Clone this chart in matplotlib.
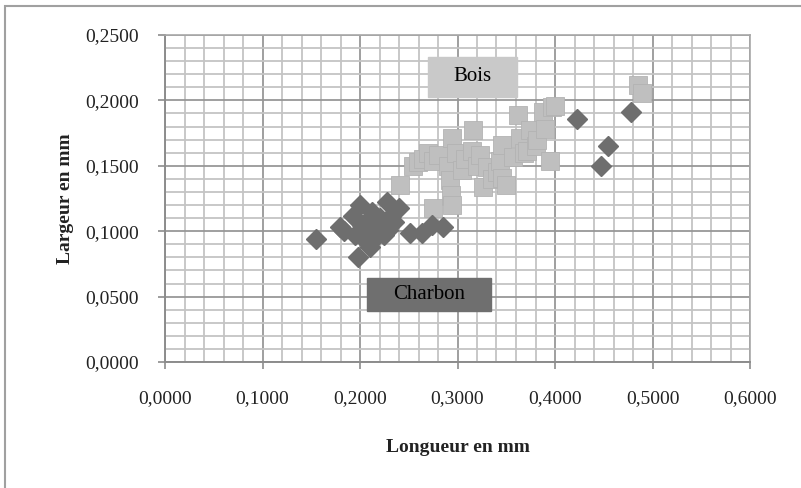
import matplotlib.pyplot as plt
from matplotlib.patches import Rectangle
from matplotlib.ticker import MultipleLocator, FuncFormatter

# longueur / largeur (mm)
charbon_x = [0.155, 0.179, 0.184, 0.193, 0.195, 0.198, 0.200, 0.202, 0.205, 0.207,
             0.210, 0.212, 0.213, 0.217, 0.220, 0.225, 0.228, 0.229, 0.232, 0.235,
             0.240, 0.251, 0.264, 0.274, 0.285, 0.423, 0.447, 0.454, 0.478]
charbon_y = [0.094, 0.103, 0.100, 0.112, 0.097, 0.080, 0.120, 0.105, 0.093, 0.108,
             0.088, 0.115, 0.093, 0.100, 0.110, 0.097, 0.122, 0.101, 0.112, 0.107,
             0.118, 0.099, 0.099, 0.105, 0.103, 0.186, 0.150, 0.165, 0.191]

bois_x = [0.241, 0.254, 0.259, 0.265, 0.270, 0.275, 0.275, 0.280, 0.290, 0.292,
          0.293, 0.294, 0.294, 0.298, 0.305, 0.308, 0.315, 0.316, 0.320, 0.323,
          0.326, 0.330, 0.335, 0.340, 0.344, 0.346, 0.346, 0.350, 0.357, 0.362,
          0.364, 0.368, 0.371, 0.374, 0.380, 0.382, 0.388, 0.390, 0.395, 0.397,
          0.400, 0.485, 0.489]
bois_y = [0.135, 0.150, 0.153, 0.155, 0.160, 0.154, 0.118, 0.158, 0.150, 0.139,
          0.128, 0.120, 0.171, 0.160, 0.147, 0.155, 0.161, 0.177, 0.150, 0.158,
          0.134, 0.149, 0.140, 0.145, 0.154, 0.166, 0.141, 0.135, 0.157, 0.189,
          0.171, 0.160, 0.161, 0.177, 0.165, 0.170, 0.191, 0.178, 0.154, 0.195,
          0.196, 0.212, 0.206]

serif = 'Liberation Serif'

fig = plt.figure(figsize=(8.01, 4.88), dpi=100)
ax = fig.add_axes([165 / 801, 1 - 362 / 488, 585 / 801, 327 / 488])

ax.set_xlim(0, 0.6)
ax.set_ylim(0, 0.25)
ax.xaxis.set_major_locator(MultipleLocator(0.1))
ax.xaxis.set_minor_locator(MultipleLocator(0.02))
ax.yaxis.set_major_locator(MultipleLocator(0.05))
ax.yaxis.set_minor_locator(MultipleLocator(0.01))
fmt = FuncFormatter(lambda v, p: f'{v:.4f}'.replace('.', ','))
ax.xaxis.set_major_formatter(fmt)
ax.yaxis.set_major_formatter(fmt)

ax.grid(which='minor', color='#c4c4c4', linewidth=1.3)
ax.grid(which='major', color='#979797', linewidth=1.3)
ax.set_axisbelow(True)
ax.tick_params(which='minor', length=0)
ax.tick_params(which='major', length=5, width=1.2, color='#8c8c8c',
               labelsize=14, labelcolor='#222222')
ax.tick_params(axis='x', pad=15)
ax.tick_params(axis='y', pad=14)
for t in ax.get_xticklabels() + ax.get_yticklabels():
    t.set_fontfamily(serif)
for side in ['left', 'bottom']:
    ax.spines[side].set_color('#8c8c8c')
    ax.spines[side].set_linewidth(1.4)
for side in ['top', 'right']:
    ax.spines[side].set_color('#a8a8a8')
    ax.spines[side].set_linewidth(1.2)

ax.plot(bois_x, bois_y, 's', ms=13, color='#bfbfbf', mec='#b3b3b3', mew=0.6,
        clip_on=False, zorder=3)
ax.plot(charbon_x, charbon_y, 'D', ms=10, color='#6e6e6e', mec='#6e6e6e',
        clip_on=False, zorder=4)

# étiquettes des séries
ax.add_patch(Rectangle((0.270, 0.2026), 0.091, 0.0306, color='#c9c9c9',
                       zorder=5, clip_on=False))
ax.text(0.3155, 0.2179, 'Bois', ha='center', va='center', fontsize=15,
        family=serif, zorder=6)
ax.add_patch(Rectangle((0.207, 0.0390), 0.127, 0.0252, color='#6f6f6f',
                       zorder=5, clip_on=False))
ax.text(0.2705, 0.0516, 'Charbon', ha='center', va='center', fontsize=15,
        family=serif, zorder=6)

ax.set_xlabel('Longueur en mm', fontsize=14, fontweight='bold', family=serif,
              color='#222222', labelpad=23)
ax.set_ylabel('Largeur en mm', fontsize=14, fontweight='bold', family=serif,
              color='#222222', labelpad=8)

# cadre du graphique
fig.patches.append(Rectangle((5 / 801, -0.1), 1.2, 1 - 6 / 488 + 0.1,
                             transform=fig.transFigure, fill=False,
                             edgecolor='#a0a0a0', linewidth=1.5))

fig.savefig('out.png', dpi=100)
